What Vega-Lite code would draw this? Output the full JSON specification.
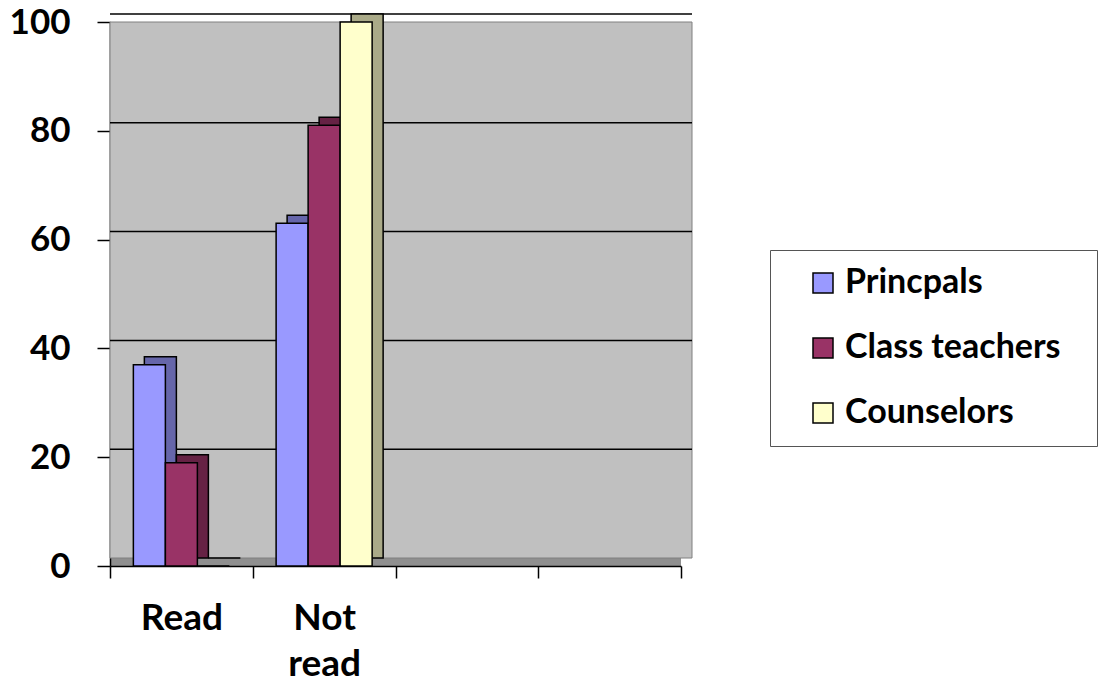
{
  "$schema": "https://vega.github.io/schema/vega-lite/v6.json",
  "width": 571,
  "height": 544,
  "autosize": {"type": "none"},
  "padding": {"left": 110, "top": 22, "right": 418, "bottom": 118},
  "config": {
    "font": "Lato",
    "view": {"fill": "#8F8F8F", "stroke": null}
  },
  "data": {
    "values": [
      {"response": "Read", "group": "Princpals", "percent": 37},
      {"response": "Read", "group": "Class teachers", "percent": 19},
      {"response": "Read", "group": "Counselors", "percent": 0},
      {"response": "Not read", "group": "Princpals", "percent": 63},
      {"response": "Not read", "group": "Class teachers", "percent": 81},
      {"response": "Not read", "group": "Counselors", "percent": 100}
    ]
  },
  "layer": [
    {
      "data": {"values": [{"lo": 0, "hi": 100}]},
      "mark": {"type": "rect", "fill": "#C0C0C0", "stroke": "#808080", "strokeWidth": 1, "xOffset": 11, "yOffset": -8},
      "encoding": {
        "y": {"field": "lo", "type": "quantitative", "scale": {"domain": [0, 100]}},
        "y2": {"field": "hi"}
      }
    },
    {
      "data": {"values": [{"v": 20}, {"v": 40}, {"v": 60}, {"v": 80}, {"v": 100}]},
      "mark": {"type": "rule", "color": "black", "strokeWidth": 1.5, "xOffset": 11, "yOffset": -8},
      "encoding": {
        "y": {"field": "v", "type": "quantitative"}
      }
    },
    {
      "mark": {"type": "bar", "stroke": "black", "strokeWidth": 1.5, "yOffset": -8},
      "encoding": {
        "x": {"field": "response", "type": "nominal", "sort": null},
        "xOffset": {
          "field": "group",
          "type": "nominal",
          "scale": {"domain": ["Princpals", "Class teachers", "Counselors"], "range": [11, 153.75], "paddingInner": 0, "paddingOuter": 0.73}
        },
        "y": {"field": "percent", "type": "quantitative"},
        "color": {
          "field": "group",
          "type": "nominal",
          "scale": {"domain": ["Princpals", "Class teachers", "Counselors"], "range": ["#6666AA", "#662244", "#AAAA88"]},
          "legend": null
        }
      }
    },
    {
      "mark": {"type": "bar", "stroke": "black", "strokeWidth": 1.5},
      "encoding": {
        "x": {
          "field": "response",
          "type": "nominal",
          "sort": null,
          "scale": {"domain": ["Read", "Not read", " ", "  "], "paddingInner": 0, "paddingOuter": 0},
          "axis": {
            "title": null,
            "tickBand": "extent",
            "labelAlign": "center",
            "labelAngle": 0,
            "labelFontSize": 37,
            "labelFontWeight": "bold",
            "labelColor": "black",
            "labelPadding": 40,
            "labelLineHeight": 46,
            "labelExpr": "datum.label == 'Not read' ? ['Not', 'read'] : datum.label",
            "tickColor": "black",
            "tickSize": 12,
            "tickWidth": 1.5,
            "domainColor": "black",
            "domainWidth": 1.5
          }
        },
        "xOffset": {
          "field": "group",
          "type": "nominal",
          "scale": {"domain": ["Princpals", "Class teachers", "Counselors"], "paddingInner": 0, "paddingOuter": 0.73}
        },
        "y": {
          "field": "percent",
          "type": "quantitative",
          "scale": {"domain": [0, 100]},
          "axis": {
            "title": null,
            "values": [0, 20, 40, 60, 80, 100],
            "grid": false,
            "labelFontSize": 35,
            "labelFontWeight": "bold",
            "labelColor": "black",
            "labelPadding": 27,
            "tickColor": "black",
            "tickSize": 13,
            "tickWidth": 1.5,
            "domainColor": "black",
            "domainWidth": 1.5
          }
        },
        "color": {
          "field": "group",
          "type": "nominal",
          "scale": {"domain": ["Princpals", "Class teachers", "Counselors"], "range": ["#9999FF", "#993366", "#FFFFCC"]},
          "legend": {
            "title": " ",
            "titleOrient": "right",
            "titleFontSize": 1,
            "titlePadding": 20,
            "orient": "none",
            "legendX": 660,
            "legendY": 228,
            "fillColor": "white",
            "strokeColor": "#555555",
            "padding": 16,
            "symbolType": "square",
            "symbolSize": 400,
            "symbolStrokeColor": "black",
            "symbolStrokeWidth": 1.5,
            "symbolOffset": 20,
            "labelFontSize": 34,
            "labelFontWeight": "bold",
            "labelColor": "black",
            "labelOffset": 5,
            "labelLimit": 400,
            "rowPadding": 31
          }
        }
      }
    }
  ],
  "resolve": {"scale": {"color": "independent", "xOffset": "independent"}}
}
